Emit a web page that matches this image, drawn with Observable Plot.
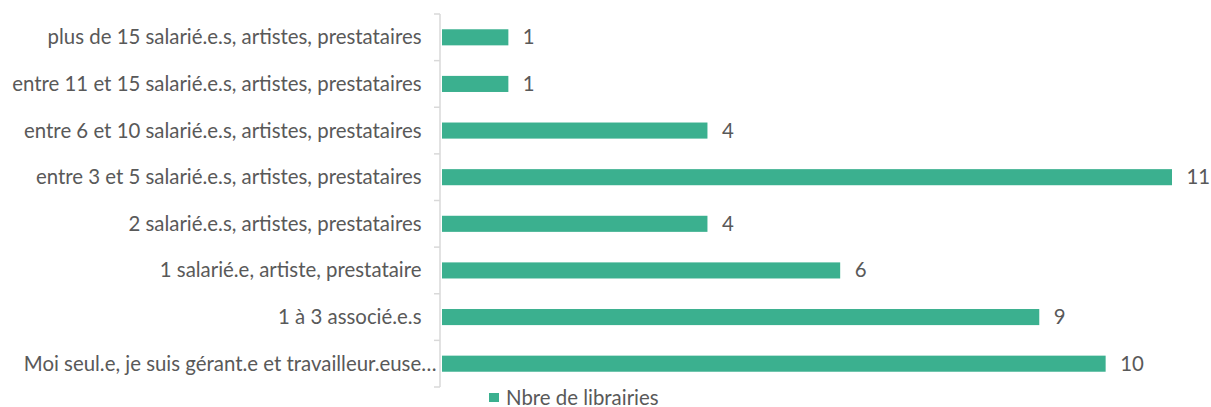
<!DOCTYPE html>
<html><head><meta charset="utf-8">
<script src="https://cdn.jsdelivr.net/npm/d3@7"></script>
<script src="https://cdn.jsdelivr.net/npm/@observablehq/plot@0.6"></script>
<style>
body{margin:0;background:#fff;font-family:Lato,sans-serif;overflow:hidden;}
#chart svg{display:block;}
#legend{height:17px;display:flex;align-items:center;padding-left:489px;font-size:20.4px;line-height:17px;color:#595959;margin-top:-1px;}
#legend span.sw{display:inline-block;width:10px;height:9px;background:#3BB08F;margin-right:7px;}
</style></head>
<body><div id="chart"></div><div id="legend"><span class="sw"></span><span id="lt"></span></div>
<script>
const categories = [
  "plus de 15 salarié.e.s, artistes, prestataires",
  "entre 11 et 15 salarié.e.s, artistes, prestataires",
  "entre 6 et 10 salarié.e.s, artistes, prestataires",
  "entre 3 et 5 salarié.e.s, artistes, prestataires",
  "2 salarié.e.s, artistes, prestataires",
  "1 salarié.e, artiste, prestataire",
  "1 à 3 associé.e.s",
  "Moi seul.e, je suis gérant.e et travailleur.euse…"
];
const values = [1, 1, 4, 11, 4, 6, 9, 10];
const seriesName = "Nbre de librairies";
const color = "#3BB08F";
const data = categories.map((c, i) => ({cat: c, v: values[i]}));

const boundaryTicks = (index, scales, values, dims) => {
  const g = d3.create("svg:g");
  const x = scales.x;
  const x0 = x(0) - 2;
  const top = dims.marginTop, bottom = dims.height - dims.marginBottom;
  const step = (bottom - top) / categories.length;
  g.append("line").attr("x1", x0).attr("x2", x0).attr("y1", top).attr("y2", bottom)
    .attr("stroke", "#d9d9d9").attr("stroke-width", 1.5);
  for (let i = 0; i <= categories.length; i++) {
    const yy = top + i * step;
    g.append("line").attr("x1", x0 - 6).attr("x2", x0).attr("y1", yy).attr("y2", yy)
      .attr("stroke", "#d9d9d9").attr("stroke-width", 1.5);
  }
  return g.node();
};

const chart = Plot.plot({
  width: 1211,
  height: 390,
  marginLeft: 442,
  marginRight: 39,
  marginTop: 14,
  marginBottom: 3,
  style: {fontFamily: "Lato, sans-serif", fontSize: "20.4px", color: "#595959", background: "#fff"},
  x: {domain: [0, 11], axis: null},
  y: {domain: categories, paddingInner: 0.655, paddingOuter: 0.3275, round: false, label: null},
  marks: [
    Plot.barX(data, {x: "v", y: "cat", fill: color}),
    Plot.text(data, {x: "v", y: "cat", text: d => String(d.v), textAnchor: "start", dx: 14, fill: "#595959", fontSize: 20.4}),
    Plot.axisY({ticks: categories.slice(0, -1), tickSize: 0, tickPadding: 21, fontSize: 20.4, fill: "#595959", label: null}),
    Plot.axisY({ticks: categories.slice(-1), tickSize: 0, tickPadding: 6, fontSize: 20.4, fill: "#595959", label: null}),
    boundaryTicks
  ]
});
document.getElementById("chart").append(chart);
document.getElementById("lt").textContent = seriesName;
</script>
</body></html>
